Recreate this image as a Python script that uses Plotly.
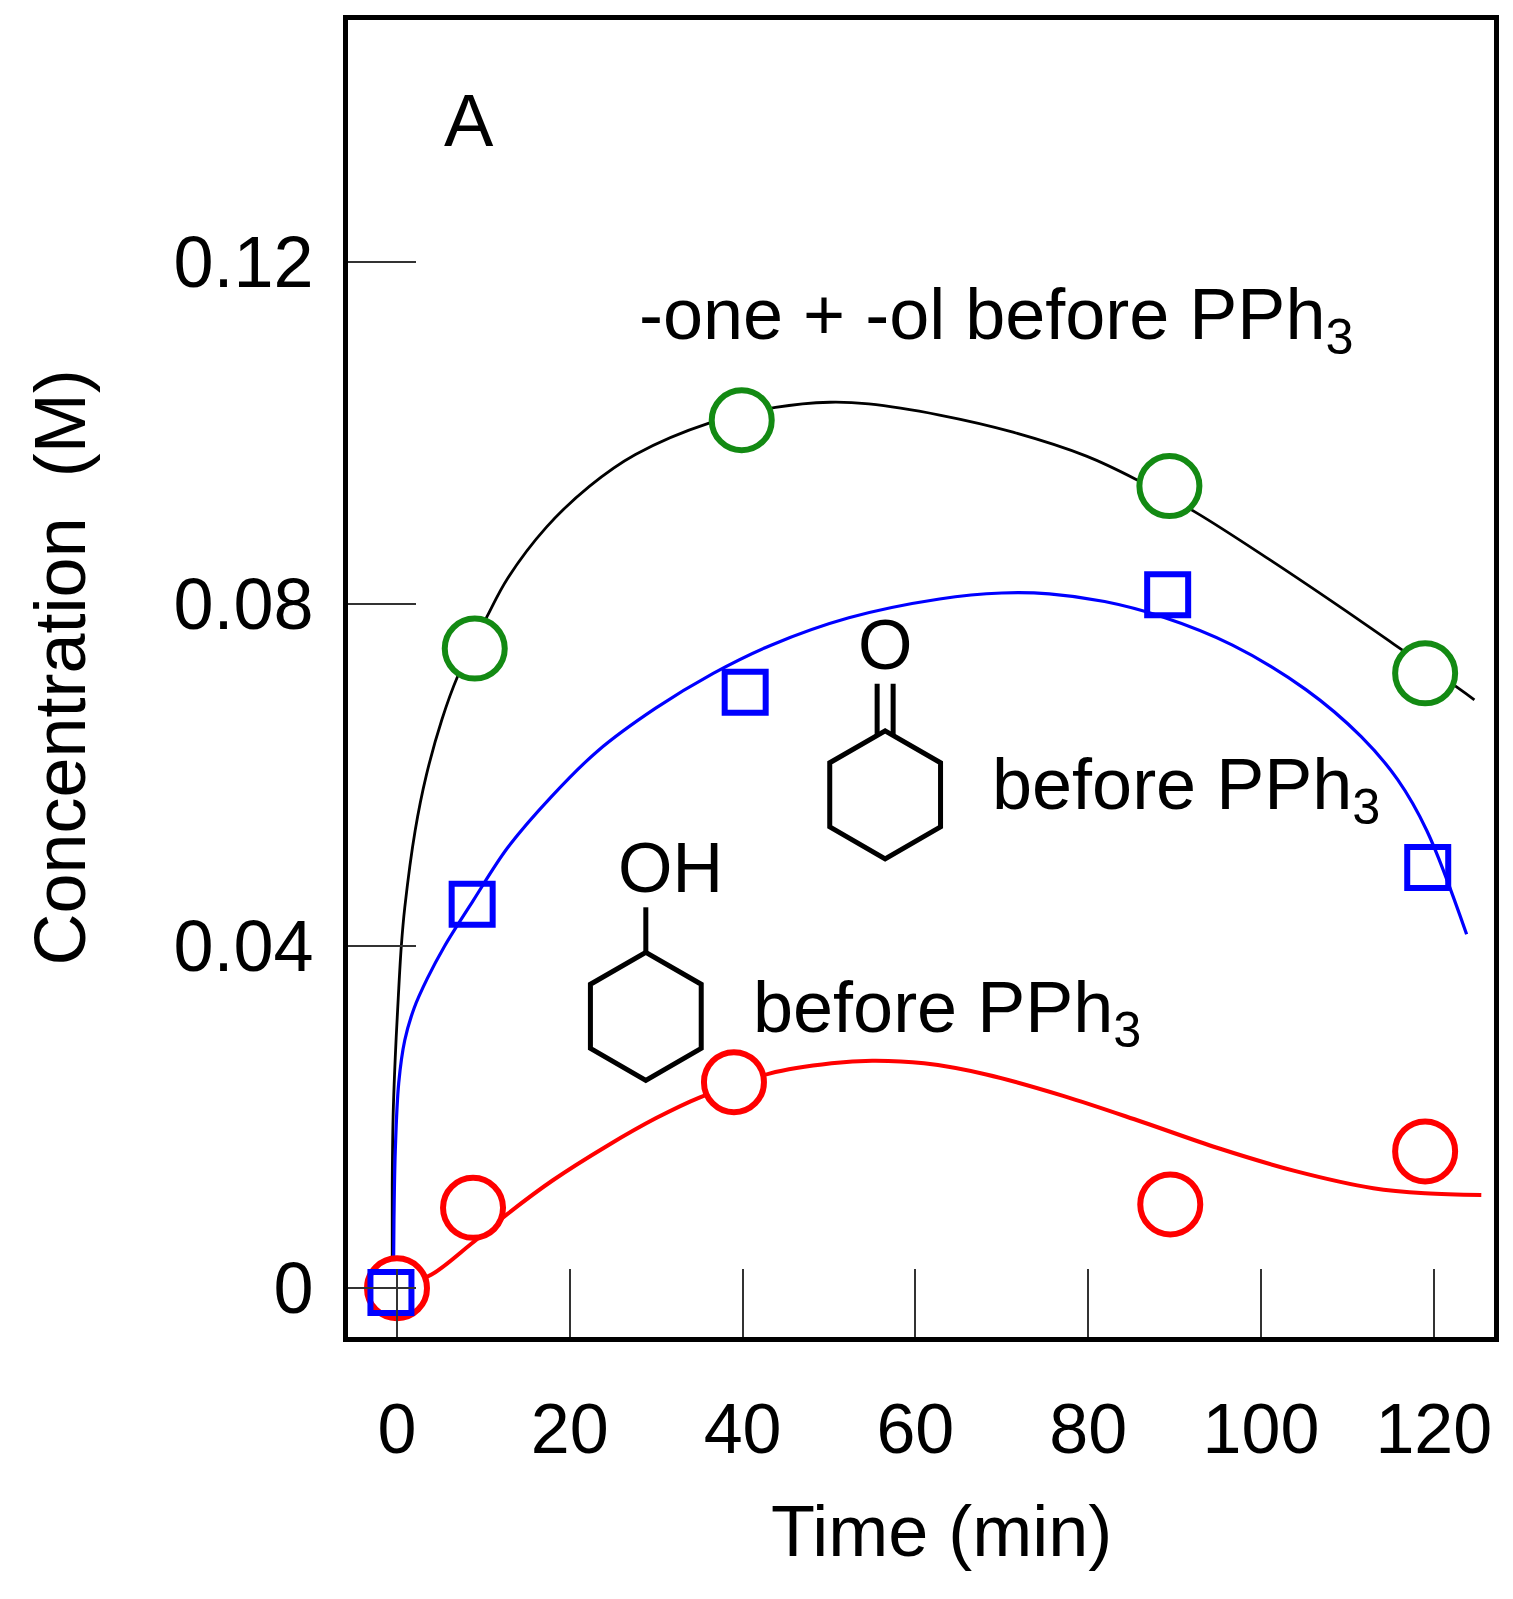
import math
import plotly.graph_objects as go

# ---------------- data ----------------
# measured points
one_ol_t = [9.0, 39.9, 89.4, 119.0]
one_ol_c = [0.0748, 0.1015, 0.0938, 0.0719]

one_t = [-0.7, 8.7, 40.3, 89.2, 119.3]
one_c = [-0.0005, 0.0449, 0.0697, 0.0811, 0.0492]

ol_t = [0.0, 8.8, 39.0, 89.5, 119.0]
ol_c = [0.0, 0.0094, 0.0241, 0.0098, 0.0160]

# fitted curves
fit_one_ol_t = [-0.55, -0.55, -0.45, -0.2, 0.15, 0.5, 0.9, 2.1, 3.4, 5.2, 7.0, 10.4, 12.8,
                17.3, 22.3, 27.6, 36.2, 43.8, 50.1, 54.6, 62.8, 71.3, 79.8, 85.7,
                92.5, 101.0, 109.4, 115.4, 122.8, 124.7]
fit_one_ol_c = [0.003, 0.012, 0.020, 0.027, 0.034, 0.040, 0.0445, 0.0535, 0.0600, 0.0665,
                0.0715, 0.0785, 0.0830, 0.0890, 0.0938, 0.0975, 0.1012, 0.1030, 0.1036,
                0.1034, 0.1021, 0.1001, 0.0973, 0.0945, 0.0907, 0.0852, 0.0795, 0.0753,
                0.0702, 0.0688]

fit_one_t = [-0.4, -0.35, -0.2, 0.2, 0.9, 2.0, 3.5, 5.5, 8.8, 12.8, 17.8, 23.2, 29.9, 36.6,
             43.3, 52.3, 62.8, 70.0, 75.5, 81.9, 88.3, 96.7, 105.2, 111.6, 115.8, 119.2,
             123.8]
fit_one_c = [0.002, 0.008, 0.016, 0.024, 0.029, 0.0328, 0.0362, 0.0400, 0.0453, 0.0515,
             0.0574, 0.0628, 0.0678, 0.0719, 0.0752, 0.0784, 0.0806, 0.0813, 0.0812,
             0.0803, 0.0786, 0.0752, 0.0700, 0.0645, 0.0595, 0.0535, 0.0414]

fit_ol_t = [0.0, 4.0, 8.6, 12.8, 18.0, 24.4, 30.0, 35.0, 43.1, 50.3, 55.0, 61.0, 68.2,
            77.1, 86.1, 95.0, 104.0, 113.0, 119.0, 125.5]
fit_ol_c = [0.0, 0.0016, 0.0052, 0.0087, 0.0126, 0.0167, 0.0199, 0.0223, 0.0251, 0.0263,
            0.0266, 0.0263, 0.0250, 0.0225, 0.0195, 0.0164, 0.0137, 0.0117, 0.0111,
            0.0109]

x_ticks = [0, 20, 40, 60, 80, 100, 120]
y_ticks = [0, 0.04, 0.08, 0.12]
y_tick_text = ["0", "0.04", "0.08", "0.12"]

FONT = "Arial, Liberation Sans, sans-serif"

fig = go.Figure()

# curves
fig.add_trace(go.Scatter(x=fit_one_ol_t, y=fit_one_ol_c, mode="lines",
                         line=dict(color="black", width=2.8, shape="spline", smoothing=1.0),
                         showlegend=False, hoverinfo="skip"))
fig.add_trace(go.Scatter(x=fit_one_t, y=fit_one_c, mode="lines",
                         line=dict(color="#0000ff", width=3.2, shape="spline", smoothing=1.0),
                         showlegend=False, hoverinfo="skip"))
fig.add_trace(go.Scatter(x=fit_ol_t, y=fit_ol_c, mode="lines",
                         line=dict(color="#ff0000", width=4, shape="spline", smoothing=1.0),
                         showlegend=False, hoverinfo="skip"))

# markers
fig.add_trace(go.Scatter(x=ol_t, y=ol_c, mode="markers",
                         marker=dict(symbol="circle", size=60, color="white",
                                     line=dict(color="#ff0000", width=6)),
                         showlegend=False))
fig.add_trace(go.Scatter(x=one_ol_t, y=one_ol_c, mode="markers",
                         marker=dict(symbol="circle", size=60, color="white",
                                     line=dict(color="#138a13", width=6)),
                         showlegend=False))
fig.add_trace(go.Scatter(x=one_t, y=one_c, mode="markers",
                         marker=dict(symbol="square-open", size=41, color="#0000ff",
                                     line=dict(color="#0000ff", width=6)),
                         showlegend=False))


def hexagon_path(r):
    pts = []
    for k in range(6):
        a = math.radians(90 - 60 * k)
        pts.append((r * math.cos(a), r * math.sin(a)))
    return "M " + " L ".join(f"{px:.1f} {py:.1f}" for px, py in pts) + " Z"


# structure anchors (data coordinates)
ketone_xy = (56.5, 0.0577)
alcohol_xy = (28.8, 0.0318)
HEX_R = 64

shapes = []
for (ax, ay) in (ketone_xy, alcohol_xy):
    shapes.append(dict(type="path", xref="x", yref="y", xsizemode="pixel", ysizemode="pixel",
                       xanchor=ax, yanchor=ay, path=hexagon_path(HEX_R),
                       line=dict(color="black", width=5)))
# C=O double bond
shapes.append(dict(type="path", xref="x", yref="y", xsizemode="pixel", ysizemode="pixel",
                   xanchor=ketone_xy[0], yanchor=ketone_xy[1],
                   path="M -8 59 L -8 111 M 8 59 L 8 111",
                   line=dict(color="black", width=5)))
# C-OH bond
shapes.append(dict(type="path", xref="x", yref="y", xsizemode="pixel", ysizemode="pixel",
                   xanchor=alcohol_xy[0], yanchor=alcohol_xy[1],
                   path="M 0 64 L 0 109",
                   line=dict(color="black", width=5)))

tf = dict(family=FONT, size=72, color="black")
annotations = [
    dict(x=8.33, y=0.1366, xref="x", yref="y", text="A", showarrow=False,
         font=dict(family=FONT, size=74, color="black"), xanchor="center", yanchor="middle"),
    dict(x=27.8, y=0.1133, xref="x", yref="y", text="-one + -ol before PPh<sub>3</sub>",
         showarrow=False, font=tf, xanchor="left", yanchor="middle"),
    dict(x=68.6, y=0.0583, xref="x", yref="y", text="before PPh<sub>3</sub>",
         showarrow=False, font=tf, xanchor="left", yanchor="middle"),
    dict(x=40.95, y=0.0322, xref="x", yref="y", text="before PPh<sub>3</sub>",
         showarrow=False, font=tf, xanchor="left", yanchor="middle"),
    dict(x=ketone_xy[0], y=ketone_xy[1], xref="x", yref="y", text="O", showarrow=False,
         font=dict(family=FONT, size=70, color="black"), xanchor="center", yanchor="middle",
         yshift=150),
    dict(x=alcohol_xy[0], y=alcohol_xy[1], xref="x", yref="y", text="OH", showarrow=False,
         font=dict(family=FONT, size=70, color="black"), xanchor="center", yanchor="middle",
         xshift=25, yshift=148),
    dict(x=0.5175, y=-0.1475, xref="paper", yref="paper", text="Time (min)", showarrow=False,
         font=tf, xanchor="center", yanchor="middle"),
    dict(x=-0.2513, y=0.5083, xref="paper", yref="paper", text="Concentration\u00a0 (M)",
         showarrow=False, font=tf, xanchor="center", yanchor="middle", textangle=-90),
]

fig.update_layout(
    width=1513, height=1599,
    margin=dict(l=340, r=27, t=7, b=270),
    paper_bgcolor="white", plot_bgcolor="white",
    shapes=shapes, annotations=annotations,
    font=dict(family=FONT, color="black"),
)
fig.update_xaxes(range=[-5.67, 126.97], tickvals=x_ticks, ticks="inside", ticklen=68,
                 tickwidth=2, tickcolor="#333333", showline=True, linewidth=5,
                 linecolor="black", mirror=True, showgrid=False, zeroline=False,
                 tickfont=dict(family=FONT, size=70, color="black"), ticklabelstandoff=27)
fig.update_yaxes(range=[-0.0057, 0.1483], tickvals=y_ticks, ticktext=y_tick_text,
                 ticks="inside", ticklen=68, tickwidth=2, tickcolor="#333333",
                 showline=True, linewidth=5, linecolor="black", mirror=True,
                 showgrid=False, zeroline=False,
                 tickfont=dict(family=FONT, size=72, color="black"), ticklabelstandoff=15)

fig.write_html("out.html")
